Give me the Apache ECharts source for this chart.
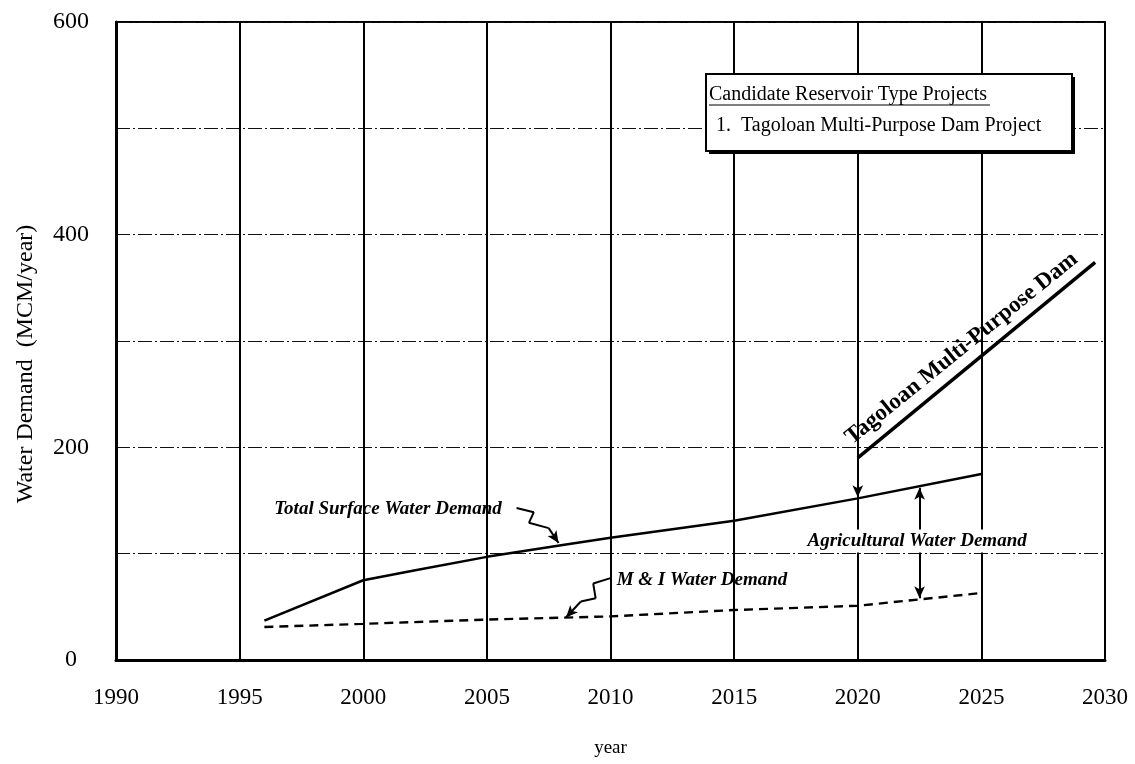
<!DOCTYPE html>
<html><head><meta charset="utf-8">
<script src="https://cdn.jsdelivr.net/npm/echarts@6/dist/echarts.min.js"></script>
<style>html,body{margin:0;padding:0;background:#fff}#c{width:1135px;height:764px}</style>
</head><body><div id="c"></div>
<script>
// ---- data ----
const totalYears = [1996, 2000, 2002, 2005, 2008, 2010, 2015, 2020, 2025];
const totalDemand = [37, 75, 84, 97, 108, 115, 131, 152, 175];
const miYears = [1996, 2000, 2005, 2010, 2015, 2020, 2025];
const miDemand = [31, 34, 38, 41, 47, 51, 63];
const damYears = [2020, 2029.6];
const damDemand = [190, 374];
const damArrow = [[2020, 190], [2020, 153]];
const agriArrow = [[2022.5, 162], [2022.5, 58]];
const totalSquiggle = [[2006.2, 143], [2006.9, 139], [2006.7, 129], [2007.5, 124], [2007.9, 110]];
const miSquiggle = [[2010.0, 77], [2009.3, 72], [2009.4, 58], [2008.8, 55], [2008.2, 40]];
const yTickLabels = ['0', '200', '400', '600'];
const labels = {
  total: {text: 'Total Surface Water Demand', at: [2001.0, 142]},
  mi: {text: 'M & I Water Demand', at: [2013.7, 75]},
  agri: {text: 'Agricultural Water Demand', at: [2022.4, 112]},
  dam: {text: 'Tagoloan Multi-Purpose Dam', at: [2024.2, 293]}
};
const legendTitle = 'Candidate Reservoir Type Projects';
const legendItem = '1.  Tagoloan Multi-Purpose Dam Project';

const SERIF = '"Liberation Serif", "DejaVu Serif", serif';
const zip = (xs, ys) => xs.map((x, i) => [x, ys[i]]);

function segs(points, arrowEnd, arrowStart) {
  const out = [];
  for (let i = 0; i < points.length - 1; i++) {
    out.push([
      {coord: points[i], symbol: (arrowStart && i === 0) ? 'arrow' : 'none'},
      {coord: points[i + 1], symbol: (arrowEnd && i === points.length - 2) ? 'arrow' : 'none'}
    ]);
  }
  return out;
}

const chart = echarts.init(document.getElementById('c'), null, {renderer: 'canvas'});
const annStyle = {fontFamily: SERIF, fontStyle: 'italic', fontWeight: 'bold', fontSize: 19, color: '#000', opacity: 1};

function textPoint(l, extra) {
  return {
    type: 'scatter', symbolSize: 0.1, silent: true, z: 10,
    itemStyle: {opacity: 1, color: '#000'},
    emphasis: {disabled: true},
    data: [{value: l.at}],
    label: Object.assign({show: true, position: 'inside', formatter: l.text}, annStyle, extra || {})
  };
}

chart.setOption({
  animation: false,
  backgroundColor: '#fff',
  grid: {left: 116, right: 30, top: 22, bottom: 104, containLabel: false, outerBoundsMode: 'none',
    show: true, borderColor: '#000', borderWidth: 2, backgroundColor: 'transparent'},
  xAxis: {
    type: 'value', min: 1990, max: 2030, interval: 5,
    name: 'year', nameLocation: 'middle', nameGap: 79,
    nameTextStyle: {fontFamily: SERIF, fontSize: 19, color: '#000'},
    axisLine: {show: true, lineStyle: {color: '#000', width: 3}},
    axisTick: {show: false},
    axisLabel: {margin: 26, fontFamily: SERIF, fontSize: 23, color: '#000', formatter: v => String(v)},
    splitLine: {show: true, lineStyle: {color: '#000', width: 2}}
  },
  yAxis: {
    type: 'value', min: 0, max: 600, interval: 100,
    name: 'Water Demand  (MCM/year)', nameLocation: 'middle', nameGap: 78,
    nameTextStyle: {fontFamily: SERIF, fontSize: 24, color: '#000', padding: [0, 46, 0, 0]},
    axisLine: {show: true, lineStyle: {color: '#000', width: 3}},
    axisTick: {show: false},
    axisLabel: {margin: 45, align: 'center', fontFamily: SERIF, fontSize: 24, color: '#000',
      formatter: v => yTickLabels.indexOf(String(v)) >= 0 ? String(v) : ''},
    splitLine: {show: true, lineStyle: {color: '#111', width: 1, type: [14, 3, 2, 3]}}
  },
  series: [
    {
      type: 'line', name: 'Total Surface Water Demand', data: zip(totalYears, totalDemand),
      showSymbol: false, symbol: 'none', lineStyle: {color: '#000', width: 2.5}, z: 5,
      markLine: {
        silent: true, animation: false, symbolSize: [8, 12],
        lineStyle: {color: '#000', width: 2, type: 'solid'},
        label: {show: false},
        data: [].concat(
          segs(damArrow, true, false),
          segs(agriArrow, true, true),
          segs(totalSquiggle, true, false),
          segs(miSquiggle, true, false)
        )
      }
    },
    {
      type: 'line', name: 'M & I Water Demand', data: zip(miYears, miDemand),
      showSymbol: false, symbol: 'none', lineStyle: {color: '#000', width: 2.4, type: [9, 6]}, z: 5
    },
    {
      type: 'line', name: 'Tagoloan Multi-Purpose Dam', data: zip(damYears, damDemand),
      showSymbol: false, symbol: 'none', lineStyle: {color: '#000', width: 3.5}, z: 5
    },
    textPoint(labels.total),
    textPoint(labels.mi),
    textPoint(labels.agri, {backgroundColor: '#fff', padding: [2, 3]}),
    textPoint(labels.dam, {fontStyle: 'normal', fontWeight: 'bold', fontSize: 23, rotate: 39})
  ],
  graphic: [
    {type: 'rect', z: 50, shape: {x: 709, y: 77, width: 366, height: 77}, style: {fill: '#000'}},
    {type: 'rect', z: 51, shape: {x: 706, y: 74, width: 366, height: 77}, style: {fill: '#fff', stroke: '#000', lineWidth: 2}},
    {type: 'text', z: 52, x: 709, y: 95, style: {text: legendTitle, font: '20px ' + SERIF, fill: '#000', textVerticalAlign: 'middle'}},
    {type: 'line', z: 52, shape: {x1: 709, y1: 105, x2: 990, y2: 105}, style: {stroke: '#000', lineWidth: 1}},
    {type: 'text', z: 52, x: 716, y: 126, style: {text: legendItem, font: '20px ' + SERIF, fill: '#000', textVerticalAlign: 'middle'}}
  ]
});
</script>
</body></html>
